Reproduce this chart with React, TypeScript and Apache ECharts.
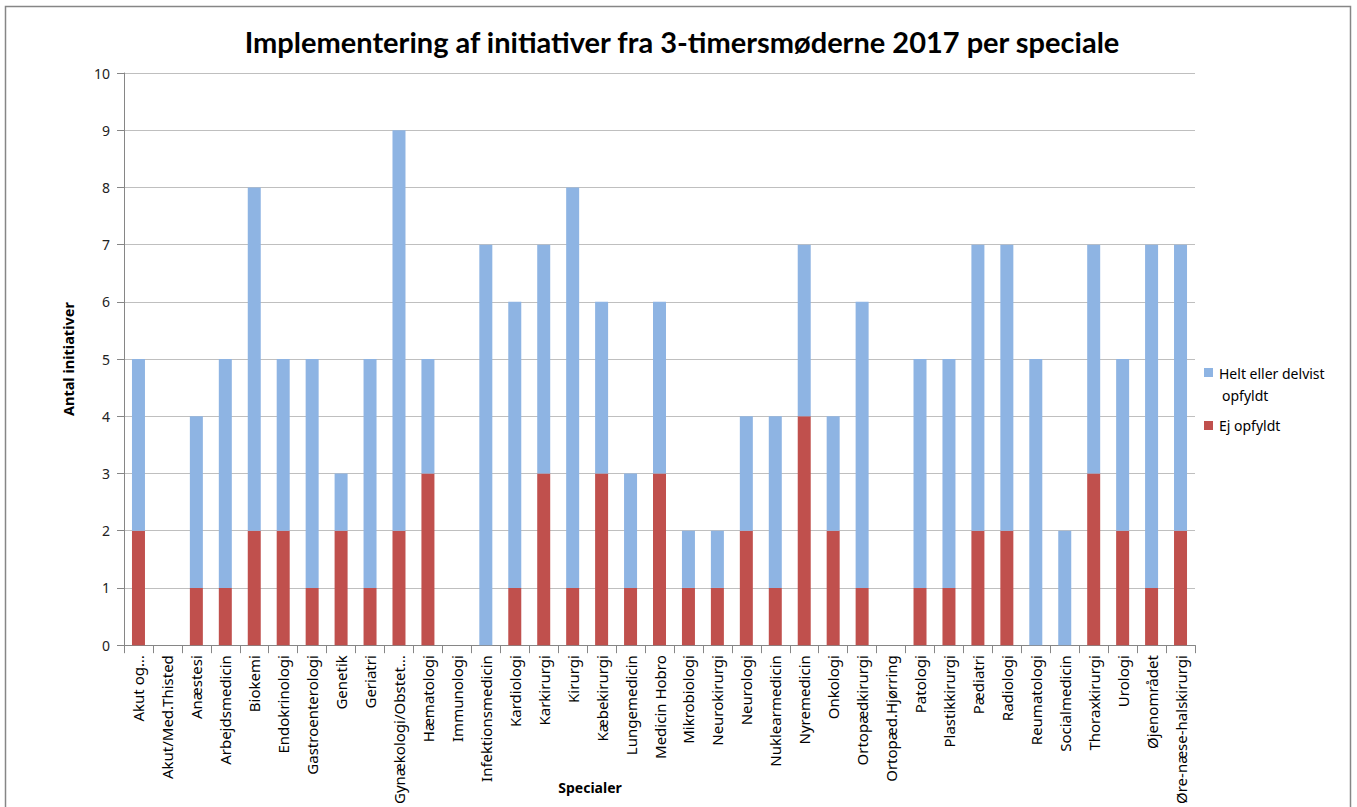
import React, { useEffect, useRef } from "react";
import * as echarts from "echarts";

const categories = [
  "Akut og…", "Akut/Med.Thisted", "Anæstesi", "Arbejdsmedicin", "Biokemi", "Endokrinologi",
  "Gastroenterologi", "Genetik", "Geriatri", "Gynækologi/Obstet…", "Hæmatologi", "Immunologi",
  "Infektionsmedicin", "Kardiologi", "Karkirurgi", "Kirurgi", "Kæbekirurgi", "Lungemedicin",
  "Medicin Hobro", "Mikrobiologi", "Neurokirurgi", "Neurologi", "Nuklearmedicin", "Nyremedicin",
  "Onkologi", "Ortopædkirurgi", "Ortopæd.Hjørring", "Patologi", "Plastikkirurgi", "Pædiatri",
  "Radiologi", "Reumatologi", "Socialmedicin", "Thoraxkirurgi", "Urologi", "Øjenområdet",
  "Øre-næse-halskirurgi",
];

const ejOpfyldt = [
  2, 0, 1, 1, 2, 2, 1, 2, 1, 2, 3, 0, 0, 1, 3, 1, 3, 1, 3, 1, 1, 2, 1, 4, 2, 1, 0, 1, 1, 2, 2, 0, 0, 3, 2, 1, 2,
];

const heltDelvist = [
  3, 0, 3, 4, 6, 3, 4, 1, 4, 7, 2, 0, 7, 5, 4, 7, 3, 2, 3, 1, 1, 2, 3, 3, 2, 5, 0, 4, 4, 5, 5, 5, 2, 4, 3, 6, 5,
];

const yTicks = [0, 10, 1];

const title = "Implementering af initiativer fra 3-timersmøderne 2017 per speciale";
const seriesNames = ["Ej opfyldt", "Helt eller delvist opfyldt"];
const legendLines = ["Helt eller delvist", "opfyldt", "Ej opfyldt"];
const FONT = "Noto Sans";
const BLUE = "#8EB4E3";
const RED = "#C0504D";

export default function App() {
  const ref = useRef<HTMLDivElement>(null);
  useEffect(() => {
    document.body.style.margin = "0";
    const chart = echarts.init(ref.current!, null, { renderer: "svg" });
    const legendText = (text: string, x: number, y: number) => ({
      type: "text",
      x,
      y,
      style: { text, fontFamily: FONT, fontSize: 14, fill: "#000", align: "left", verticalAlign: "middle" },
    });
    chart.setOption({
      animation: false,
      backgroundColor: "#ffffff",
      textStyle: { fontFamily: FONT },
      title: {
        text: title,
        left: 677,
        textAlign: "center",
        top: 22,
        textStyle: { fontFamily: "Lato", fontSize: 29, fontWeight: "bold", color: "#000" },
      },
      graphic: [
        {
          type: "rect",
          shape: { x: 5.5, y: 6.5, width: 1345, height: 820 },
          style: { fill: "none", stroke: "#868686", lineWidth: 1.5 },
          silent: true,
        },
        {
          type: "text",
          x: 590,
          y: 787,
          style: {
            text: "Specialer",
            fontFamily: FONT,
            fontSize: 14,
            fontWeight: "bold",
            fill: "#000",
            align: "center",
            verticalAlign: "middle",
          },
        },
        { type: "rect", shape: { x: 1204, y: 368, width: 9, height: 9 }, style: { fill: BLUE } },
        legendText(legendLines[0], 1219, 373),
        legendText(legendLines[1], 1222, 395),
        { type: "rect", shape: { x: 1204, y: 421, width: 9, height: 9 }, style: { fill: RED } },
        legendText(legendLines[2], 1219, 425),
      ],
      grid: { left: 124, right: 162, top: 73, bottom: 160 },
      xAxis: {
        type: "category",
        data: categories,
        axisLine: { lineStyle: { color: "#868686" } },
        axisTick: { show: true, length: 8, lineStyle: { color: "#868686" } },
        axisLabel: {
          rotate: 90,
          interval: 0,
          fontFamily: FONT,
          fontSize: 15,
          color: "#000",
          margin: 10,
        },
      },
      yAxis: {
        type: "value",
        min: yTicks[0],
        max: yTicks[1],
        interval: yTicks[2],
        name: "Antal initiativer",
        nameLocation: "middle",
        nameGap: 49,
        nameTextStyle: { fontFamily: FONT, fontSize: 14.5, fontWeight: "bold", color: "#000" },
        axisLine: { show: true, lineStyle: { color: "#868686" } },
        axisTick: { show: true, length: 7, lineStyle: { color: "#868686" } },
        axisLabel: { fontFamily: FONT, fontSize: 14, color: "#222", margin: 14 },
        splitLine: { lineStyle: { color: "#bfbfbf" } },
      },
      series: [
        {
          name: seriesNames[0],
          type: "bar",
          stack: "a",
          data: ejOpfyldt,
          barWidth: 13,
          itemStyle: { color: RED },
        },
        {
          name: seriesNames[1],
          type: "bar",
          stack: "a",
          data: heltDelvist,
          barWidth: 13,
          itemStyle: { color: BLUE },
        },
      ],
    });
    return () => chart.dispose();
  }, []);
  return <div ref={ref} style={{ width: 1357, height: 807 }} />;
}
